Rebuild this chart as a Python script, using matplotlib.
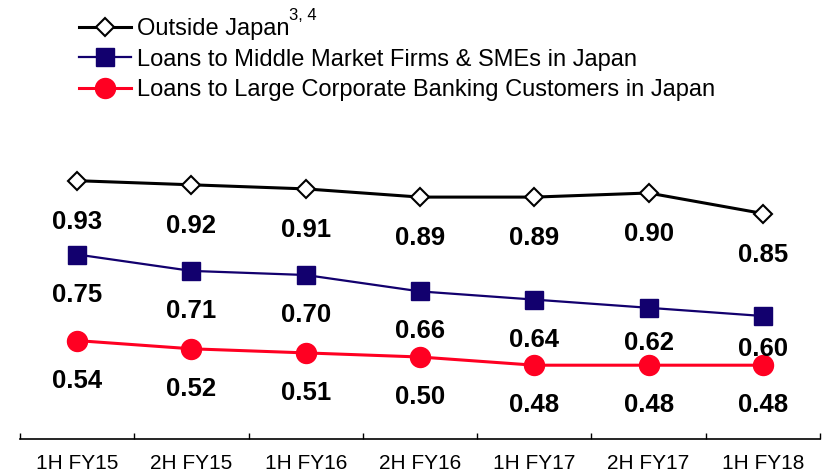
import matplotlib
matplotlib.use("Agg")
import matplotlib.pyplot as plt
import numpy as np

categories = ["1H FY15", "2H FY15", "1H FY16", "2H FY16", "1H FY17", "2H FY17", "1H FY18"]
outside_japan = [0.93, 0.92, 0.91, 0.89, 0.89, 0.90, 0.85]
middle_market = [0.75, 0.71, 0.70, 0.66, 0.64, 0.62, 0.60]
large_corp = [0.54, 0.52, 0.51, 0.50, 0.48, 0.48, 0.48]

series_names = ["Outside Japan",
                "Loans to Middle Market Firms & SMEs in Japan",
                "Loans to Large Corporate Banking Customers in Japan"]

plt.rcParams['font.family'] = ['Liberation Sans', 'DejaVu Sans']

fig = plt.figure(figsize=(8.37, 4.75), dpi=100)
ax = fig.add_axes([20/837, 1-439/475, 800/837, (439-152)/475])

x = np.arange(len(categories))
navy = '#12006E'
red = '#FF0022'

l1, = ax.plot(x, outside_japan, color='black', lw=2.2, marker='D', ms=9.3,
              mfc='white', mec='black', mew=1.5, label=series_names[0], zorder=3)
l2, = ax.plot(x, middle_market, color=navy, lw=1.6, marker='s', ms=13.2,
              mfc=navy, mec=navy, label=series_names[1], zorder=3)
l3, = ax.plot(x, large_corp, color=red, lw=2.2, marker='o', ms=14.4,
              mfc=red, mec=red, label=series_names[2], zorder=3)

# label offsets (pixels below the point)
off_black = [41] * 7
off_blue = [40, 40, 40, 40, 40, 35, 33]
off_red = [40] * 7
for vals, offs in [(outside_japan, off_black), (middle_market, off_blue), (large_corp, off_red)]:
    for xi, v, o in zip(x, vals, offs):
        ax.annotate(f"{v:.2f}", (xi, v), xytext=(0, -o*0.72), textcoords='offset points',
                    ha='center', va='center', fontsize=18.5, fontweight='bold', color='black')

ax.set_xlim(-0.5, len(categories) - 0.5)
ax.set_ylim(0.3, 1.0)
for s in ['top', 'right', 'left']:
    ax.spines[s].set_visible(False)
ax.spines['bottom'].set_linewidth(1.2)
ax.set_yticks([])
ax.set_xticks(x)
ax.set_xticklabels(categories, fontsize=15)
ax.tick_params(axis='x', which='major', length=0, pad=11)
ax.set_xticks(np.arange(-0.5, len(categories)), minor=True)
ax.tick_params(axis='x', which='minor', direction='in', length=4.5, width=1.0)

leg = fig.legend(handles=[l1, l2, l3], loc='upper left', bbox_to_anchor=(79/837, 1-18/475),
                 frameon=False, fontsize=17, handlelength=2.2, handletextpad=0.25,
                 labelspacing=0.37, borderpad=0, borderaxespad=0)
fig.text(289/837, 1-8/475, "3, 4", fontsize=12, ha='left', va='top')

fig.savefig("out.png", dpi=100)
